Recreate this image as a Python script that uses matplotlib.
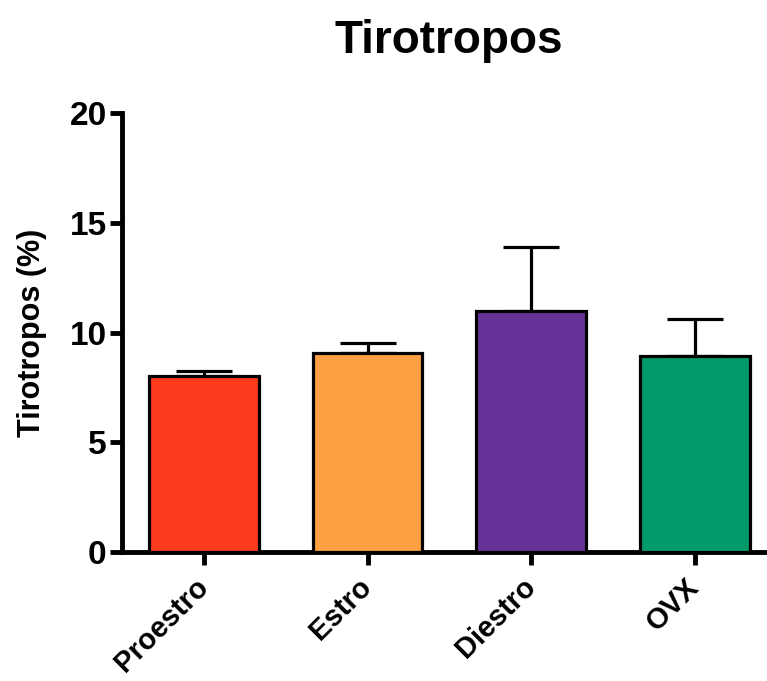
import matplotlib
matplotlib.use("Agg")
import matplotlib.pyplot as plt
import numpy as np

categories = ["Proestro", "Estro", "Diestro", "OVX"]
means = [8.0, 9.08, 11.0, 8.95]
errors = [0.27, 0.45, 2.9, 1.65]
colors = ["#fc3a1c", "#fda043", "#663399", "#029a6b"]
yticks = [0, 5, 10, 15, 20]

plt.rcParams['font.family'] = ['Liberation Sans', 'DejaVu Sans']
plt.rcParams['font.weight'] = 'bold'

fig = plt.figure(figsize=(7.67, 6.81), dpi=100)
ax = fig.add_axes([0.159, 0.1894, 0.841, 0.6446])

x = np.arange(len(categories))
ax.bar(x, means, width=0.67, color=colors, edgecolor="black", linewidth=2.3, zorder=3)
ax.errorbar(x, means, yerr=[np.zeros(len(errors)), errors], fmt="none", ecolor="black",
            elinewidth=2.3, capsize=20, capthick=2.3, zorder=2)

ax.set_xlim(-0.5, 3.44)
ax.set_ylim(0, 20)
ax.set_yticks(yticks)
ax.set_yticklabels([str(v) for v in yticks], fontsize=24, fontweight='bold')
ax.set_xticks(x)
ax.set_xticklabels(categories, fontsize=21, fontweight='bold', rotation=45,
                   ha='right', va='center', rotation_mode='anchor')
for s in ['top', 'right']:
    ax.spines[s].set_visible(False)
for s in ['left', 'bottom']:
    ax.spines[s].set_linewidth(3.5)
ax.tick_params(axis='both', width=3.5, length=9, direction='out')
ax.tick_params(axis='x', pad=13)
ax.tick_params(axis='y', pad=2)

ax.set_ylabel("Tirotropos (%)", fontsize=22, fontweight='bold', labelpad=16)
fig.text(0.585, 0.94, "Tirotropos", fontsize=33, fontweight='bold', ha='center', va='center')

fig.savefig("out.png", dpi=100)
